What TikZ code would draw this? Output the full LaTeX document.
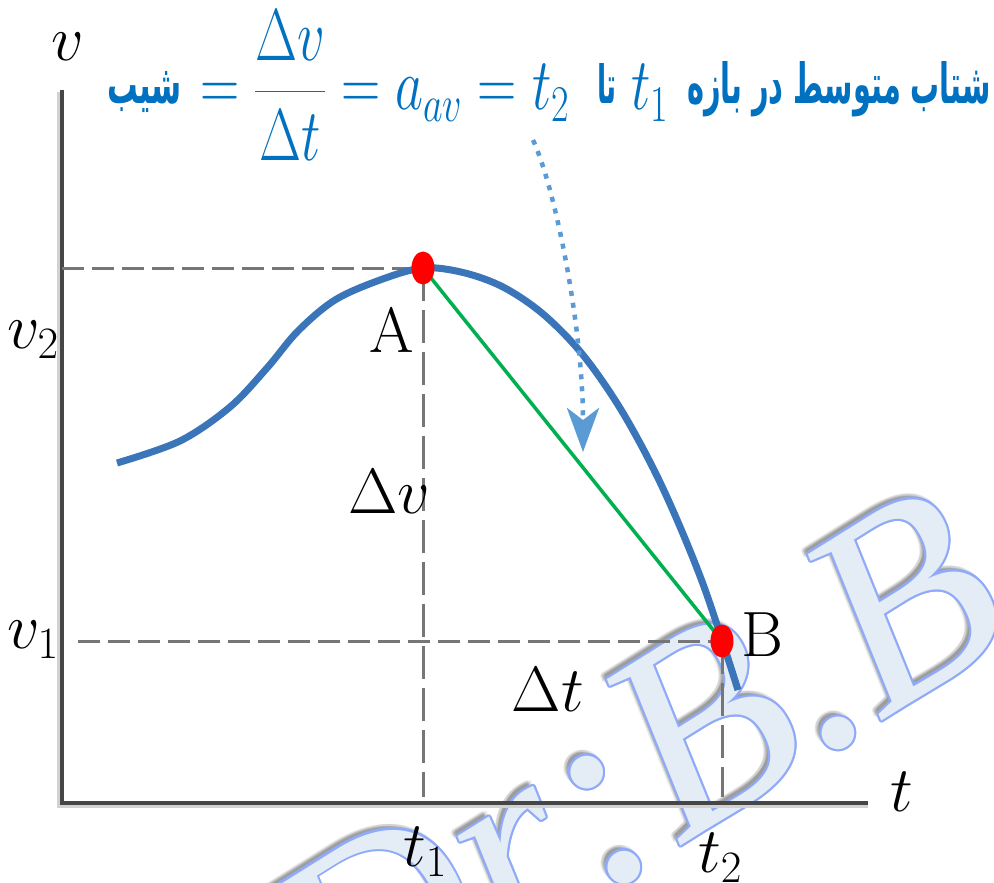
\documentclass[tikz,border=0pt]{standalone}
\usepackage{fix-cm}
\usepackage{graphicx}
\usepackage{fontspec}
\usetikzlibrary{arrows.meta,calc,shapes.geometric}
\TeXXeTstate=1
\newfontfamily\fafont[Script=Arabic]{DejaVu Sans}
\newfontfamily\wmfont{Liberation Serif}
\definecolor{curveblue}{RGB}{58,116,185}
\definecolor{ttlblue}{RGB}{0,112,192}
\definecolor{arrblue}{RGB}{91,155,213}
\definecolor{grnline}{RGB}{0,176,80}
\definecolor{dashgray}{RGB}{118,118,118}
\definecolor{axisgray}{RGB}{70,70,70}
\definecolor{wmfill}{RGB}{228,236,246}
\definecolor{wmline}{RGB}{143,170,248}
\newcommand{\wmtext}{\wmfont\itshape\fontsize{275}{275}\selectfont Dr:B.B}
\newcommand{\fatxt}[3]{\resizebox{#1}{#2}{\fafont\bfseries\fontsize{40}{44}\selectfont #3}}
\newcommand{\ttlmath}[1]{\scalebox{0.85}[1.15]{\fontsize{64}{70}\selectfont$\displaystyle #1$}}
\begin{document}
\begin{tikzpicture}[x=1pt,y=-1pt,
  wmnode/.style={anchor=base west,rotate=32,inner sep=0pt,outer sep=0pt},
  lab/.style={inner sep=0pt,font=\fontsize{64}{70}\selectfont},
  ttl/.style={inner sep=0pt,outer sep=0pt,text=ttlblue},
  hdash/.style={draw=dashgray,line width=3pt,dash pattern=on 22pt off 8pt},
  vdash/.style={draw=dashgray,line width=3pt,dash pattern=on 33pt off 9pt},
  axisline/.style={draw=axisgray,line width=4pt},
  axisshadow/.style={draw=black!18,line width=4pt},
  reddot/.style={ellipse,fill=red,minimum width=23pt,minimum height=33pt,inner sep=0pt},
  vcurve/.style={draw=curveblue,line width=7pt},
  chord/.style={draw=grnline,line width=3.5pt},
  hint/.style={draw=arrblue,line width=4.5pt,dash pattern=on 5pt off 7pt,
    -{Stealth[length=44pt,width=32pt,inset=12pt]}}
]
\useasboundingbox (0,0) rectangle (994,883);
\fill[white] (0,0) rectangle (994,883);
% watermark
\coordinate (wm) at (342,1058);
\foreach \dx/\dy in {-6/-6,-5/-3,-3/-6,-7/-4,-4/-4}{
  \node[wmnode,text=black,opacity=0.09] at ($(wm)+(\dx,\dy)$) {\wmtext};}
\foreach \a in {0,30,...,330}{
  \node[wmnode,text=wmline] at ($(wm)+(\a:2.2)$) {\wmtext};}
\node[wmnode,text=wmfill] (wmark) at (wm) {\wmtext};
% axes
\coordinate (O) at (62,803);
\coordinate (Y) at (62,90);
\coordinate (X) at (868,803);
\draw[axisshadow] ($(Y)+(-3,2)$) -- ($(O)+(-3,3)$) -- ($(X)+(0,3)$);
\draw[axisline] (Y) -- (O) -- (X);
% points
\coordinate (Ac) at (423,268);
\coordinate (Bc) at (722,641);
\draw[hdash] (Ac -| O) -- (Ac);
\draw[vdash] (Ac) -- ($(Ac |- O)+(0,-6)$);
\draw[hdash] ($(Bc -| O)+(16,0)$) -- (Bc);
\draw[vdash] (Bc) -- ($(Bc |- O)+(0,-6)$);
% curve
\draw[vcurve,line cap=butt] plot[smooth,tension=0.55] coordinates {(117,463) (180,441) (230,407) (267,368) (298,331) (335,300) (380,280) (423,268) (463,272.5) (503,287) (543,314) (583,355) (623,413) (663,488.5) (703,584) (738,690)};
\draw[chord] (Ac) -- (Bc);
\node[reddot] (A) at (Ac) {};
\node[reddot] (B) at (Bc) {};
% hint arrow
\coordinate (hs) at (533,140);
\coordinate (he) at (583,452);
\draw[hint] (hs) .. controls (556,190) and (583,330) .. (he);
% labels
\node[lab] (lv) at (68,47) {$v$};
\node[lab] (lv2) at (33,340) {$v_2$};
\node[lab] (lv1) at (33,640) {$v_1$};
\node[lab] (lt) at (902,792) {$t$};
\node[lab] (lt1) at (425,852) {$t_1$};
\node[lab] (lt2) at (720,858) {$t_2$};
\node[lab] (la) at (392,330) {A};
\node[lab] (lb) at (762,635) {B};
\node[lab] (ldv) at (389,492) {$\Delta v$};
\node[lab] (ldt) at (548,690) {$\Delta t$};
% title
\node[ttl,anchor=base west] (tslope) at (107,103) {\fatxt{75pt}{32pt}{\beginR شیب\endR}};
\node[ttl,anchor=base west] (tmath) at (200,110) {\ttlmath{=\frac{\Delta v}{\Delta t}=a_{av}=t_2}};
\node[ttl,anchor=base west] (tta) at (597,103) {\fatxt{20pt}{40pt}{\beginR تا\endR}};
\node[ttl,anchor=base west] (tt1) at (631,110) {\ttlmath{t_1}};
\node[ttl,anchor=base west] (tphrase) at (687,103) {\fatxt{304pt}{42pt}{\beginR شتاب متوسط در بازه\endR}};
\end{tikzpicture}
\end{document}
